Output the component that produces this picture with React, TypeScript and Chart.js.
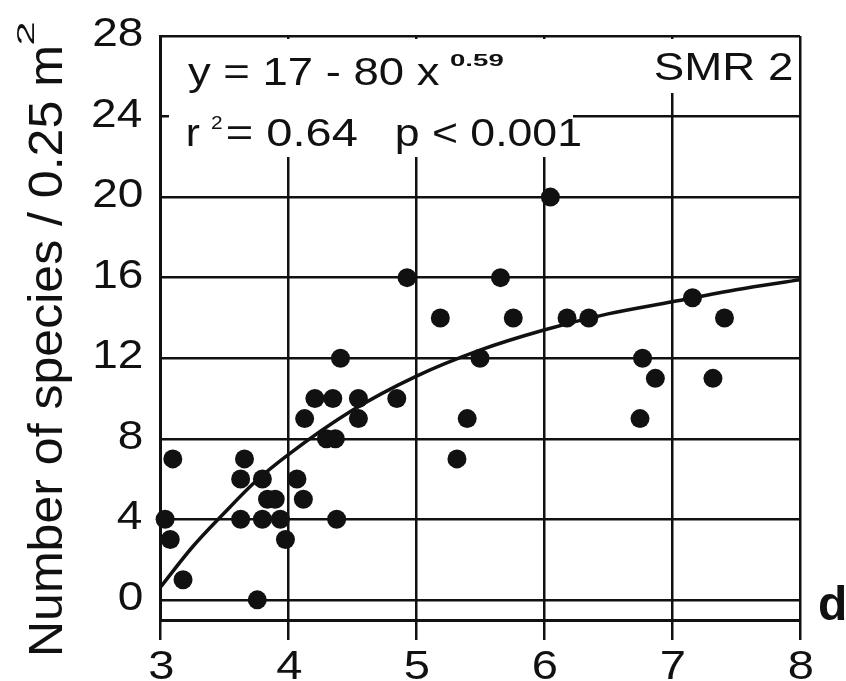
import React, { useEffect, useRef } from "react";
import { Chart, registerables } from "chart.js";

Chart.register(...registerables);

// ---- data ----
const xTicks = [3, 4, 5, 6, 7, 8];
const yTicks = [0, 4, 8, 12, 16, 20, 24, 28];
const xMin = 3;
const xMax = 8;
const yMin = -1;
const yMax = 28;

const obsX = [
  3.04, 3.08, 3.1, 3.18,
  3.63, 3.63, 3.66, 3.76, 3.8, 3.8, 3.84, 3.9, 3.94, 3.98, 4.07, 4.12,
  4.13, 4.21, 4.3, 4.37, 4.35, 4.38, 4.41, 4.55, 4.55, 4.85,
  4.93, 5.19, 5.32, 5.4, 5.5, 5.66, 5.76, 6.05, 6.18, 6.35,
  6.75, 6.77, 6.87, 7.16, 7.32, 7.41,
];
const obsY = [
  4, 3, 7, 1,
  4, 6, 7, 0, 6, 4, 5, 5, 4, 3, 6, 5,
  9, 10, 8, 8, 10, 4, 12, 10, 9, 10,
  16, 14, 7, 9, 12, 16, 14, 20, 14, 14,
  9, 12, 11, 15, 11, 14,
];

const fitX = [3, 3.25, 3.5, 3.75, 4, 4.5, 5, 5.5, 6, 6.5, 7, 7.5, 8];
const fitY = [0.6, 2.6, 4.3, 5.9, 7.2, 9.4, 11.1, 12.4, 13.4, 14.2, 14.8, 15.4, 15.9];

const yTitle = "Number of species / 0.25 m";
const yTitleSup = "2";
const eqLine1 = "y = 17 - 80 x";
const eqSup = "0.59";
const eqR = "r";
const eqRSup = "2";
const eqR2 = "= 0.64";
const eqP = "p < 0.001";
const panelLabel = "SMR 2";
const cornerLabel = "d";

const FONT = '"Liberation Sans", Arial, Helvetica, sans-serif';
const INK = "#111111";

function drawInk(
  ctx: CanvasRenderingContext2D,
  text: string,
  left: number,
  right: number,
  baseline: number,
  font: string
) {
  ctx.save();
  ctx.font = font;
  ctx.textAlign = "left";
  ctx.textBaseline = "alphabetic";
  const m = ctx.measureText(text);
  const inkW = m.actualBoundingBoxLeft + m.actualBoundingBoxRight;
  const s = (right - left) / inkW;
  ctx.translate(left, baseline);
  ctx.scale(s, 1);
  ctx.fillText(text, m.actualBoundingBoxLeft, 0);
  ctx.restore();
}

function drawScaled(
  ctx: CanvasRenderingContext2D,
  text: string,
  anchor: number,
  baseline: number,
  font: string,
  sx: number,
  align: "left" | "right" | "center"
) {
  ctx.save();
  ctx.font = font;
  const m = ctx.measureText(text);
  const w = (m.actualBoundingBoxLeft + m.actualBoundingBoxRight) * sx;
  ctx.restore();
  let left = anchor;
  if (align === "right") left = anchor - w;
  if (align === "center") left = anchor - w / 2;
  drawInk(ctx, text, left, left + w, baseline, font);
}

function drawVertical(
  ctx: CanvasRenderingContext2D,
  text: string,
  bottomY: number,
  topY: number,
  baselineX: number,
  font: string
) {
  ctx.save();
  ctx.translate(baselineX, bottomY);
  ctx.rotate(-Math.PI / 2);
  drawInk(ctx, text, 0, bottomY - topY, 0, font);
  ctx.restore();
}

const annotations = {
  id: "annotations",
  beforeDatasetsDraw(chart: any) {
    const ctx: CanvasRenderingContext2D = chart.ctx;
    ctx.save();
    ctx.fillStyle = "#ffffff";
    ctx.fillRect(169, 39, 404, 118);
    ctx.fillRect(600, 39, 197, 54);
    ctx.fillStyle = INK;
    drawInk(ctx, eqLine1, 188, 440, 85, `39px ${FONT}`);
    drawInk(ctx, eqSup, 450, 503, 66, `bold 17px ${FONT}`);
    drawInk(ctx, eqR, 188, 200, 146, `39px ${FONT}`);
    drawInk(ctx, eqRSup, 211, 222, 129, `19px ${FONT}`);
    drawInk(ctx, eqR2, 227, 357, 146, `39px ${FONT}`);
    drawInk(ctx, eqP, 397, 580, 146, `39px ${FONT}`);
    drawInk(ctx, panelLabel, 655, 792, 80, `38px ${FONT}`);
    ctx.restore();
  },
  afterDraw(chart: any) {
    const ctx: CanvasRenderingContext2D = chart.ctx;
    const xs = chart.scales.x;
    const ys = chart.scales.y;
    ctx.save();
    ctx.fillStyle = INK;
    for (const v of yTicks) {
      const py = ys.getPixelForValue(v);
      drawScaled(ctx, String(v), 142, py + 10, `40px ${FONT}`, 1.15, "right");
    }
    for (const v of xTicks) {
      const px = xs.getPixelForValue(v);
      drawScaled(ctx, String(v), px + 1, 679, `41px ${FONT}`, 1.15, "center");
    }
    drawVertical(ctx, yTitle, 653, 48, 62, `49px ${FONT}`);
    drawVertical(ctx, yTitleSup, 44, 22, 34, `24px ${FONT}`);
    ctx.font = `bold 48px ${FONT}`;
    ctx.textAlign = "left";
    ctx.textBaseline = "alphabetic";
    ctx.fillText(cornerLabel, 818, 620);
    ctx.restore();
  },
};

export default function App() {
  const canvasRef = useRef<HTMLCanvasElement | null>(null);

  useEffect(() => {
    if (!canvasRef.current) return;
    const chart = new Chart(canvasRef.current, {
      type: "scatter",
      data: {
        datasets: [
          {
            type: "line",
            label: "fit",
            data: fitX.map((x, i) => ({ x, y: fitY[i] })),
            borderColor: INK,
            borderWidth: 3.5,
            pointRadius: 0,
            showLine: true,
            fill: false,
            cubicInterpolationMode: "monotone",
          } as any,
          {
            type: "scatter",
            label: "obs",
            data: obsX.map((x, i) => ({ x, y: obsY[i] })),
            backgroundColor: INK,
            borderWidth: 0,
            pointRadius: 9.5,
            pointHoverRadius: 9.5,
            clip: false,
          } as any,
        ],
      },
      options: {
        responsive: false,
        animation: false,
        events: [],
        layout: { padding: { left: 160, top: 36, right: 46, bottom: 41 } },
        plugins: { legend: { display: false }, tooltip: { enabled: false } },
        scales: {
          x: {
            type: "linear",
            min: xMin,
            max: xMax,
            afterBuildTicks: (scale: any) => {
              scale.ticks = xTicks.map((v) => ({ value: v }));
            },
            ticks: { display: false },
            grid: {
              color: INK,
              lineWidth: 2.5,
              drawTicks: true,
              tickLength: 20,
            },
            border: { display: true, color: INK, width: 3 },
          },
          y: {
            type: "linear",
            min: yMin,
            max: yMax,
            afterBuildTicks: (scale: any) => {
              scale.ticks = yTicks.map((v) => ({ value: v }));
            },
            ticks: { display: false },
            grid: { color: INK, lineWidth: 2.5, drawTicks: false },
            border: { display: true, color: INK, width: 3 },
          },
        },
      },
      plugins: [annotations],
    });
    return () => chart.destroy();
  }, []);

  return (
    <div style={{ position: "absolute", left: 0, top: 0, width: 846, height: 681, background: "#fff" }}>
      <canvas ref={canvasRef} width={846} height={681} style={{ display: "block" }} />
    </div>
  );
}
